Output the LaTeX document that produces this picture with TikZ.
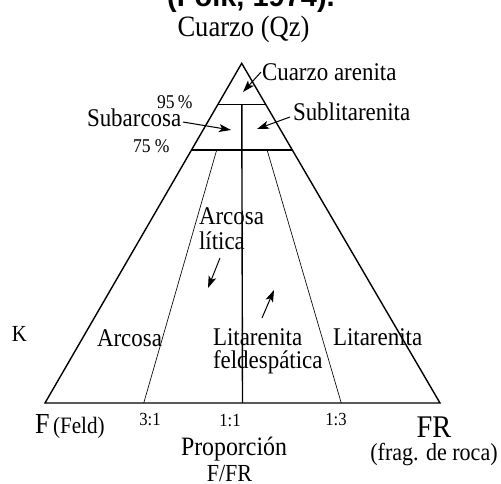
\documentclass[tikz,border=0pt]{standalone}
\usepackage{fontspec}
\setmainfont{Liberation Serif}[FakeStretch=0.9]
\newfontfamily\titlefont{Liberation Sans}
\usetikzlibrary{calc,arrows.meta}
\newcommand{\fs}[1]{\fontsize{#1}{#1}\selectfont}
\tikzset{
  lab/.style={inner sep=0pt, outer sep=0pt, font=\fs{25.5}},
  thick edge/.style={line width=1.4pt, line join=miter},
  thin edge/.style={line width=0.65pt},
  arr/.style={line width=1pt, -{Stealth[length=12pt,width=8pt,inset=3pt]}}
}
\begin{document}
\begin{tikzpicture}[x=1pt,y=-1pt]
\useasboundingbox (0,0) rectangle (501,483);
% corners
\coordinate (Q) at (241.7,63.3);
\coordinate (F) at (45,403);
\coordinate (R) at (440,403);
\coordinate (q95l) at ($(Q)!0.1207!(F)$);
\coordinate (q95r) at ($(Q)!0.1207!(R)$);
\coordinate (q75l) at ($(Q)!0.2552!(F)$);
\coordinate (q75r) at ($(Q)!0.2552!(R)$);
\coordinate (b31) at ($(F)!0.25!(R)$);
\coordinate (b11) at ($(F)!0.5!(R)$);
\coordinate (b13) at ($(F)!0.75!(R)$);
\coordinate (t31) at ($(Q)!0.2552!(b31)$);
\coordinate (t13) at ($(Q)!0.2552!(b13)$);
\coordinate (t11) at ($(q95l)!0.5!(q95r)$);
% triangle and fields
\draw[thick edge] (Q) -- (F) -- (R) -- cycle;
\draw[thick edge] (q95l) -- (q95r);
\draw[thick edge] (q75l) -- (q75r);
\draw[thick edge] (t11) -- (b11);
\draw[thin edge] (t31) -- (b31);
\draw[thin edge] (t13) -- (b13);
% title (cropped)
\node[inner sep=0pt, anchor=base, font=\titlefont\bfseries\fs{29}] (title) at (251,6.5) {(Folk, 1974).};
\node[lab, anchor=base, font=\fs{29.5}] (qz) at (243.5,36) {Cuarzo (Qz)};
\node[lab, anchor=base west] (qa) at (262,80) {Cuarzo arenita};
\node[lab, anchor=base west, font=\fs{19.5}] (p95) at (157,108) {95\,\%};
\node[lab, anchor=base west] (sa) at (87,126) {Subarcosa};
\node[lab, anchor=base west, font=\fs{19.5}] (p75) at (133,152) {75 \%};
\node[lab, anchor=base west] (sl) at (293,120) {Sublitarenita};
\node[lab, anchor=base west] (al1) at (199,224) {Arcosa};
\node[lab, anchor=base west] (al2) at (199,249) {lítica};
\node[lab, anchor=base west, font=\fs{23}] (k) at (12,341) {K};
\node[lab, anchor=base west] (ar) at (97,346) {Arcosa};
\node[lab, anchor=base west] (lf1) at (213,345) {Litarenita};
\node[lab, anchor=base west] (lf2) at (213,368) {feldespática};
\node[lab, anchor=base west] (li) at (333,345) {Litarenita};
\node[lab, anchor=base west, font=\fs{29}] (fl) at (35,433) {F};
\node[lab, anchor=base west, font=\fs{23.5}] (feld) at (53,433) {(Feld)};
\node[lab, anchor=base, font=\fs{18.5}] (r31) at (150,425) {3:1};
\node[lab, anchor=base, font=\fs{18.5}] (r11) at (230,426) {1:1};
\node[lab, anchor=base, font=\fs{18.5}] (r13) at (336,425) {1:3};
\node[lab, anchor=base, font=\fs{26.5}] (prop) at (234,455) {Proporción};
\node[lab, anchor=base, font=\fs{24.5}] (ffr) at (229.5,481) {F/FR};
\node[lab, anchor=base, font=\fs{31.5}] (fr) at (434,437) {FR};
\node[lab, anchor=base, font=\fs{24.5}] (frag) at (434,460) {(frag. de roca)};
% arrows
\coordinate (a1s) at (261,72);   \coordinate (a1e) at (243,92);
\coordinate (a2s) at (183,122);  \coordinate (a2e) at (231,130);
\coordinate (a3s) at (290,117);  \coordinate (a3e) at (257,129);
\coordinate (a4s) at (220,258);  \coordinate (a4e) at (208,288);
\coordinate (a5s) at (262,318);  \coordinate (a5e) at (274,290);
\draw[arr] (a1s) -- (a1e);
\draw[arr] (a2s) -- (a2e);
\draw[arr] (a3s) -- (a3e);
\draw[arr] (a4s) -- (a4e);
\draw[arr] (a5s) -- (a5e);
\end{tikzpicture}
\end{document}
